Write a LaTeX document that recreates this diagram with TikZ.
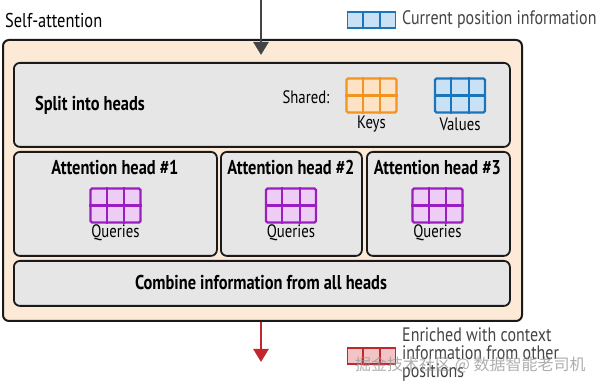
\documentclass[tikz,border=0pt]{standalone}
\usepackage{fontspec}
\setmainfont{PT Sans}[FakeStretch=0.82]
\newfontfamily\cjk{Noto Sans CJK SC}
\usetikzlibrary{arrows.meta,calc}
\definecolor{peach}{HTML}{FCE9D6}
\definecolor{panel}{HTML}{E6E6E6}
\definecolor{edge}{HTML}{1A1A1A}
\definecolor{korange}{HTML}{F39321}
\definecolor{kfill}{HTML}{FDE3C4}
\definecolor{vblue}{HTML}{1B75BB}
\definecolor{vfill}{HTML}{C9E1F4}
\definecolor{qpurple}{HTML}{9B1FC0}
\definecolor{qfill}{HTML}{EDCDF5}
\definecolor{ored}{HTML}{C1272D}
\definecolor{ofill}{HTML}{F2C4C6}
\definecolor{txtgray}{HTML}{444444}
\definecolor{wm}{HTML}{9A9A9A}
\newcommand\gridlines[3]{% name, cols, rows
  \foreach \i in {1,...,#2} {\ifnum\i<#2\draw[gridline] ($(#1.north west)!\i/#2!(#1.north east)$) -- ($(#1.south west)!\i/#2!(#1.south east)$);\fi}
  \foreach \j in {1,...,#3} {\ifnum\j<#3\draw[gridline] ($(#1.north west)!\j/#3!(#1.south west)$) -- ($(#1.north east)!\j/#3!(#1.south east)$);\fi}
}
\begin{document}
\begin{tikzpicture}[x=1pt,y=-1pt,
  outerbox/.style={draw=edge,fill=peach,line width=2pt,rounded corners=6pt,anchor=north west,inner sep=0pt},
  panelbox/.style={draw=edge,fill=panel,line width=1.8pt,rounded corners=6pt,anchor=north west,inner sep=0pt},
  title/.style={font=\fontsize{20}{22}\selectfont,text=black,inner sep=0pt},
  head/.style={font=\bfseries\fontsize{20}{22}\selectfont,text=black,inner sep=0pt},
  lbl/.style={font=\fontsize{18}{20}\selectfont,text=black,inner sep=0pt},
  legend/.style={font=\fontsize{19.5}{18}\selectfont,text=txtgray,inner sep=0pt,anchor=west,align=left},
  cellgrid/.style={draw=#1,line width=2.4pt,inner sep=0pt,minimum width=50pt,minimum height=34pt,rounded corners=1.5pt},
  gridline/.style={line width=2.2pt},
  arr/.style={line width=2.6pt,-{Triangle[width=15pt,length=13pt]}},
]
\useasboundingbox (0,0) rectangle (600,387);

% outer container
\node[outerbox,minimum width=519pt,minimum height=281pt] (outer) at (2,39) {};
\node[title,anchor=west] (satitle) at (5,21) {Self-attention};

% split into heads
\node[panelbox,minimum width=496pt,minimum height=84pt] (split) at (13,62) {};
\node[head] (splittxt) at (90,105) {Split into heads};
\node[lbl] (shared) at (306,97) {Shared:};
\node[cellgrid=korange,fill=kfill] (keys) at (371.5,95.5) {};
\begin{scope}[korange]\gridlines{keys}{3}{2}\end{scope}
\node[lbl] (keyslbl) at (371.5,124) {Keys};
\node[cellgrid=vblue,fill=vfill] (values) at (460,95.5) {};
\begin{scope}[vblue]\gridlines{values}{3}{2}\end{scope}
\node[lbl] (valueslbl) at (460,124) {Values};

% attention heads
\node[panelbox,minimum width=203pt,minimum height=104pt] (h1) at (13,151) {};
\node[panelbox,minimum width=141pt,minimum height=104pt] (h2) at (220,151) {};
\node[panelbox,minimum width=143pt,minimum height=104pt] (h3) at (366,151) {};
\node[head] (h1t) at (115,168) {Attention head \#1};
\node[head] (h2t) at (291,168) {Attention head \#2};
\node[head] (h3t) at (437.5,168) {Attention head \#3};
\foreach \n/\x in {q1/115.5,q2/291,q3/437.5}{
  \node[cellgrid=qpurple,fill=qfill] (\n) at (\x,205.5) {};
  \begin{scope}[qpurple]\gridlines{\n}{3}{2}\end{scope}
  \node[lbl] (\n lbl) at (\x,233) {Queries};
}

% combine
\node[panelbox,minimum width=496pt,minimum height=45pt] (comb) at (13,260) {};
\node[head] (combt) at (261,283) {Combine information from all heads};

% arrows
\coordinate (intop) at (261,0);
\coordinate (inend) at (261,55);
\draw[arr,draw=txtgray,fill=txtgray] (intop) -- (inend);
\coordinate (outend) at (261,362);
\draw[arr,draw=ored,fill=ored] (outer.south -| outend) -- (outend);

% legends
\node[draw=vblue,fill=vfill,line width=1.6pt,minimum width=48pt,minimum height=16pt,inner sep=0pt] (curleg) at (371.5,20) {};
\begin{scope}[vblue]\draw[line width=1.6pt] ($(curleg.north west)!1/3!(curleg.north east)$) -- ($(curleg.south west)!1/3!(curleg.south east)$) ($(curleg.north west)!2/3!(curleg.north east)$) -- ($(curleg.south west)!2/3!(curleg.south east)$);\end{scope}
\node[legend] (curtxt) at (402,20) {Current position information};

\node[draw=ored,fill=ofill,line width=1.6pt,minimum width=48pt,minimum height=16pt,inner sep=0pt] (enleg) at (371.5,356) {};
\begin{scope}[ored]\draw[line width=1.6pt] ($(enleg.north west)!1/3!(enleg.north east)$) -- ($(enleg.south west)!1/3!(enleg.south east)$) ($(enleg.north west)!2/3!(enleg.north east)$) -- ($(enleg.south west)!2/3!(enleg.south east)$);\end{scope}
\node[legend] (entxt) at (402,355) {Enriched with context\\information from other\\positions};

% watermark
\node[text=wm,opacity=0.8,font=\cjk\fontsize{16}{18}\selectfont,anchor=west,inner sep=0pt] (wmark) at (355,365) {掘金技术社区 @ 数据智能老司机};
\end{tikzpicture}
\end{document}
